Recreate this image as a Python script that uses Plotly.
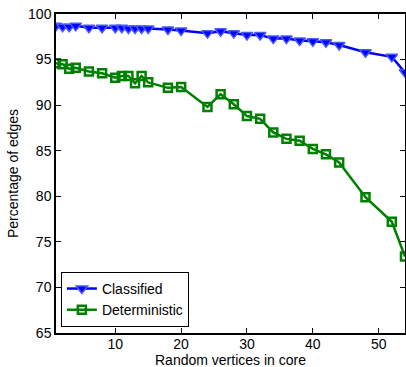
import plotly.graph_objects as go

x_vals = [1, 2, 3, 4, 6, 8, 10, 11, 12, 13, 14, 15, 18, 20, 24, 26, 28, 30, 32, 34, 36, 38, 40, 42, 44, 48, 52, 54]
classified = [98.7, 98.6, 98.6, 98.7, 98.5, 98.5, 98.5, 98.5, 98.4, 98.4, 98.4, 98.4, 98.3, 98.2,
              97.9, 98.1, 97.9, 97.7, 97.7, 97.3, 97.3, 97.1, 97.0, 96.9, 96.6, 95.8, 95.3, 93.6]
deterministic = [94.6, 94.5, 94.0, 94.1, 93.7, 93.5, 93.0, 93.2, 93.2, 92.4, 93.2, 92.5, 91.9, 92.0,
                 89.8, 91.2, 90.1, 88.8, 88.5, 87.0, 86.3, 86.1, 85.2, 84.6, 83.7, 79.9, 77.2, 73.4]
x_ticks = [10, 20, 30, 40, 50]
y_ticks = [65, 70, 75, 80, 85, 90, 95, 100]
x_title = "Random vertices in core"
y_title = "Percentage of edges"

FONT = "Liberation Sans, Arial, sans-serif"

fig = go.Figure()
fig.add_trace(go.Scatter(
    x=x_vals, y=classified, name="Classified", mode="lines+markers",
    line=dict(color="rgb(0,0,255)", width=2.5),
    marker=dict(symbol="triangle-down", size=10, color="rgb(0,0,255)",
                line=dict(width=1.5, color="rgb(70,90,255)")),
))
fig.add_trace(go.Scatter(
    x=x_vals, y=deterministic, name="Deterministic", mode="lines+markers",
    line=dict(color="rgb(0,128,0)", width=2.5),
    marker=dict(symbol="square-open", size=8, color="rgb(0,128,0)",
                line=dict(width=2.5, color="rgb(0,128,0)")),
))

axis_common = dict(
    showgrid=False, zeroline=False, showline=True, linecolor="black", linewidth=1.5,
    mirror="ticks", ticks="inside", ticklen=5, tickwidth=1, tickcolor="black",
    tickfont=dict(family=FONT, size=14, color="black"),
)

fig.update_layout(
    width=406, height=367,
    margin=dict(l=56, r=1, t=14, b=34, autoexpand=False),
    paper_bgcolor="white", plot_bgcolor="white",
    font=dict(family=FONT, size=14, color="black"),
    xaxis=dict(range=[1, 54], tickvals=x_ticks, automargin=False,
               ticklabelstandoff=-3, **axis_common),
    yaxis=dict(range=[65, 100], tickvals=y_ticks, automargin=False, **axis_common,
               title=dict(text=y_title, standoff=6,
                          font=dict(family=FONT, size=14, color="black"))),
    legend=dict(x=0.014, y=0.019, xanchor="left", yanchor="bottom",
                bgcolor="white", bordercolor="black", borderwidth=1,
                font=dict(family=FONT, size=14, color="black"), tracegroupgap=0,
                itemwidth=30),
    showlegend=True,
    annotations=[dict(text=x_title, xref="paper", yref="paper", x=0.5, y=-0.086,
                      xanchor="center", yanchor="middle", showarrow=False,
                      font=dict(family=FONT, size=14, color="black"))],
)

fig.write_html("out.html", config={"displayModeBar": False},
               post_script="document.body.style.margin='0px';document.body.style.overflow='hidden';")
